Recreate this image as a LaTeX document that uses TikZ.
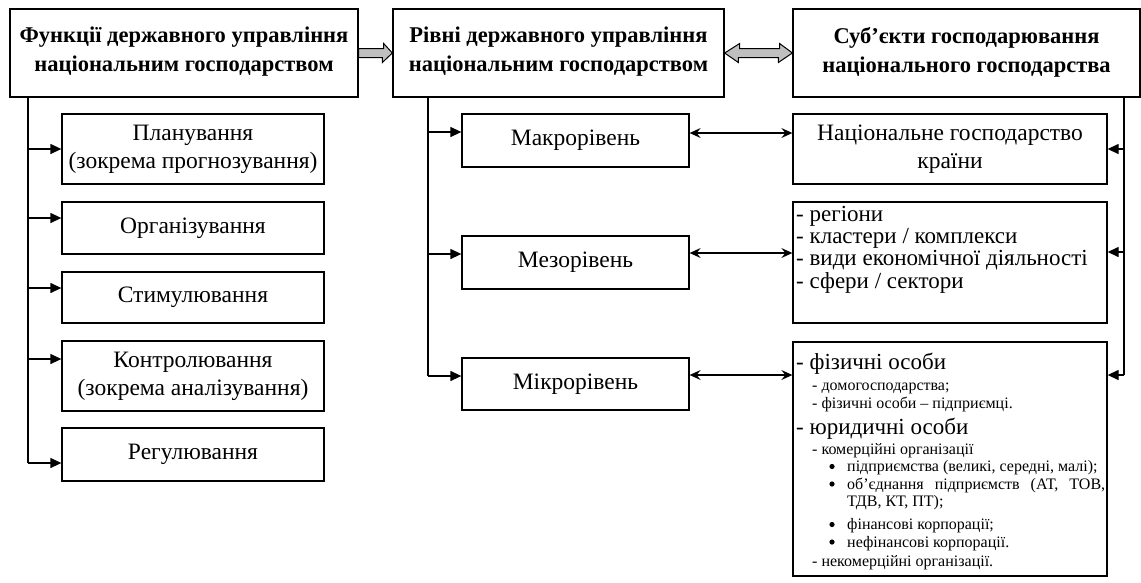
\documentclass[tikz,border=0pt]{standalone}
\usepackage{fontspec}
\setmainfont{Liberation Serif}
\usetikzlibrary{arrows.meta,calc}

\begin{document}
\begin{tikzpicture}[x=1pt,y=-1pt,
  box/.style={draw, line width=1.3pt, inner sep=0pt, fill=white},
  head/.style={align=center, inner sep=0pt, font=\bfseries\fontsize{22.5}{29}\selectfont},
  body/.style={align=center, inner sep=0pt, font=\fontsize{23.5}{28}\selectfont},
  big/.style={anchor=base west, inner sep=0pt, font=\fontsize{23}{24}\selectfont},
  small/.style={anchor=base west, inner sep=0pt, font=\fontsize{16}{18}\selectfont},
  line/.style={line width=1.3pt},
  feed/.style={line, -{Triangle[length=11pt,width=10pt]}},
  link/.style={line, {Stealth[length=11pt,width=10pt,inset=4pt]}-{Stealth[length=11pt,width=10pt,inset=4pt]}},
  block/.style={draw, line width=1pt, fill=black!25, line join=miter}
]
\useasboundingbox (0,0) rectangle (1141,582);

% ---- top row: three header boxes ----
\node[box, minimum width=348pt, minimum height=88pt] (fun) at (184,53) {};
\node[head] (funT) at ($(fun.center)+(0,-1)$) {Функції державного управління\\національним господарством};
\node[box, minimum width=331pt, minimum height=88pt] (lev) at (558.5,53) {};
\node[head] (levT) at ($(lev.center)+(0,-1)$) {Рівні державного управління\\національним господарством};
\node[box, minimum width=347pt, minimum height=88pt] (sub) at (966.5,53) {};
\node[head] (subT) at ($(sub.center)+(0,-1)$) {Суб’єкти господарювання\\національного господарства};

% block arrows between header boxes
\draw[block] ($(fun.east)+(0,-4.5)$) -- ++(25,0) -- ++(0,-5) -- (lev.west) -- ++(-10,9.5) -- ++(0,-5) -- ($(fun.east)+(0,4.5)$) -- cycle;
\draw[block] (lev.east) -- ++(15,-9.5) -- ++(0,5) -- ++(40,0) -- ++(0,-5) -- (sub.west) -- ++(-14,9.5) -- ++(0,-5) -- ++(-40,0) -- ++(0,5) -- cycle;

% ---- left column: functions ----
\node[box, minimum width=262pt, minimum height=70pt] (plan) at (193,149) {};
\node[body] (planT) at (plan.center) {Планування\\(зокрема прогнозування)};
\node[box, minimum width=262pt, minimum height=52pt, body] (org) at (193,228) {Організування};
\node[box, minimum width=262pt, minimum height=51pt, body] (stim) at (193,297.5) {Стимулювання};
\node[box, minimum width=262pt, minimum height=70pt] (kontr) at (193,376) {};
\node[body] (kontrT) at (kontr.center) {Контролювання\\(зокрема аналізування)};
\node[box, minimum width=262pt, minimum height=53pt, body] (reg) at (193,454.5) {Регулювання};

\coordinate (lt0) at (28,97);
\coordinate (lt1) at (28,149);
\coordinate (lt2) at (28,218);
\coordinate (lt3) at (28,288);
\coordinate (lt4) at (28,359);
\coordinate (lt5) at (28,463);
\draw[line] (lt0) -- (lt5);
\draw[feed] (lt1) -- (lt1 -| plan.west);
\draw[feed] (lt2) -- (lt2 -| org.west);
\draw[feed] (lt3) -- (lt3 -| stim.west);
\draw[feed] (lt4) -- (lt4 -| kontr.west);
\draw[feed] (lt5) -- (lt5 -| reg.west);

% ---- middle column: levels ----
\node[box, minimum width=227pt, minimum height=53pt, body] (makro) at (575.5,140.5) {Макрорівень};
\node[box, minimum width=227pt, minimum height=53pt, body] (mezo) at (575.5,262.5) {Мезорівень};
\node[box, minimum width=227pt, minimum height=52pt, body] (mikro) at (575.5,384) {Мікрорівень};

\coordinate (mt0) at (428,97);
\coordinate (mt1) at (428,132);
\coordinate (mt2) at (428,254);
\coordinate (mt3) at (428,376);
\draw[line] (mt0) -- (mt3);
\draw[feed] (mt1) -- (mt1 -| makro.west);
\draw[feed] (mt2) -- (mt2 -| mezo.west);
\draw[feed] (mt3) -- (mt3 -| mikro.west);

% ---- right column: economic entities ----
\node[box, minimum width=314pt, minimum height=70pt] (nat) at (950,149) {};
\node[body] (natT) at (nat.center) {Національне господарство\\країни};
\node[box, minimum width=314pt, minimum height=121pt] (mezoR) at (950,262.5) {};
\node[box, minimum width=314pt, minimum height=234pt] (mikroR) at (950,459) {};

\node[big] (m1) at (796,221) {- регіони};
\node[big] (m2) at (796,243.5) {- кластери / комплекси};
\node[big] (m3) at (796,265.5) {- види економічної діяльності};
\node[big] (m4) at (796,288) {- сфери / сектори};

\node[big] (p1) at (796,369) {- фізичні особи};
\node[small] (p2) at (812,390.5) {- домогосподарства;};
\node[small] (p3) at (812,408) {- фізичні особи – підприємці.};
\node[big] (p4) at (796,434) {- юридичні особи};
\node[small] (p5) at (812,454) {- комерційні організації};
\node[small] (p6) at (847,471.5) {підприємства (великі, середні, малі);};
\node[small] (p7) at (847,489) {\makebox[258pt][s]{об’єднання підприємств (АТ, ТОВ,}};
\node[small] (p8) at (847,506.5) {ТДВ, КТ, ПТ);};
\node[small] (p9) at (847,529.5) {фінансові корпорації;};
\node[small] (p10) at (847,547) {нефінансові корпорації.};
\node[small] (p11) at (812,566.5) {- некомерційні організації.};

% list bullets
\foreach \item in {p6,p7,p9,p10}
  \fill ($(\item.base west)+(-15,-5)$) circle (2.6pt);

% two-way links between levels and entities
\coordinate (k1) at (689,133);
\coordinate (k2) at (689,253);
\coordinate (k3) at (689,375);
\draw[link] (k1 -| makro.east) -- (k1 -| nat.west);
\draw[link] (k2 -| mezo.east) -- (k2 -| mezoR.west);
\draw[link] (k3 -| mikro.east) -- (k3 -| mikroR.west);

% right trunk from the entities header
\coordinate (rt0) at (1124,97);
\coordinate (rt1) at (1124,149);
\coordinate (rt2) at (1124,252);
\coordinate (rt3) at (1124,375);
\draw[line] (rt0) -- (rt3);
\draw[feed] (rt1) -- (rt1 -| nat.east);
\draw[feed] (rt2) -- (rt2 -| mezoR.east);
\draw[feed] (rt3) -- (rt3 -| mikroR.east);
\end{tikzpicture}
\end{document}
